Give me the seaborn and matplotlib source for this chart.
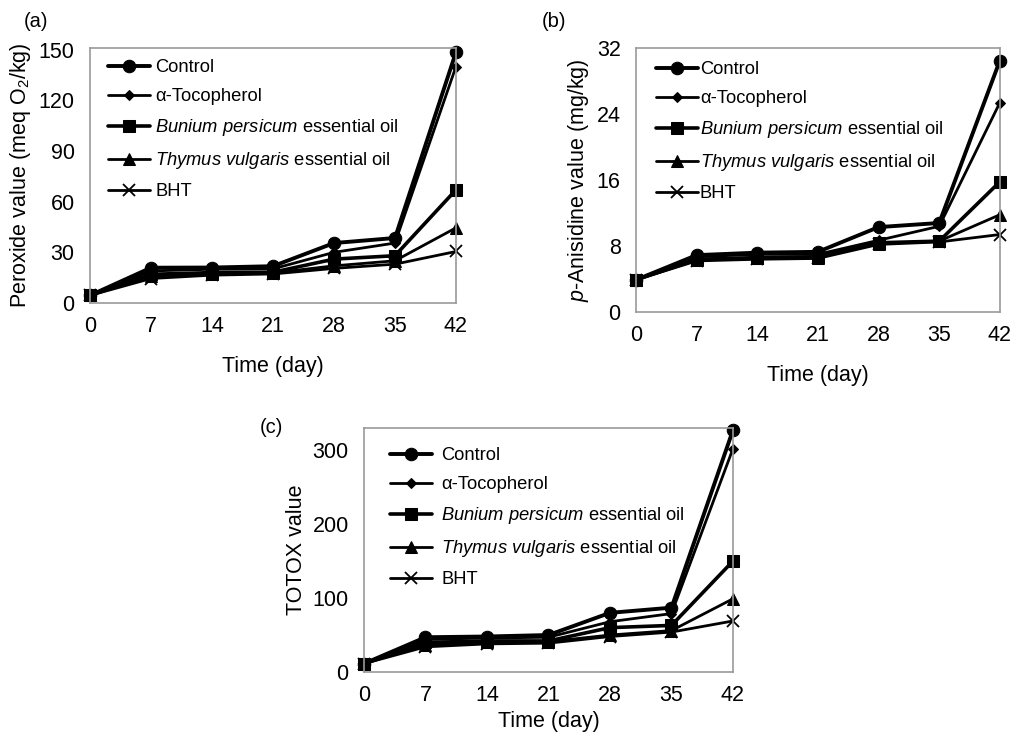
import numpy as np
import pandas as pd
import seaborn as sns
import matplotlib
matplotlib.use("Agg")
import matplotlib.pyplot as plt

days = [0, 7, 14, 21, 28, 35, 42]
series = ["Control", "α-Tocopherol", "$\\it{Bunium\\ persicum}$ essential oil",
          "$\\it{Thymus\\ vulgaris}$ essential oil", "BHT"]

peroxide_control = [4.5, 20.9, 21.0, 21.8, 35.5, 38.5, 148.5]
peroxide_toco = [4.5, 19.0, 20.0, 20.2, 30.0, 35.5, 140.0]
peroxide_bunium = [4.5, 17.0, 18.0, 18.2, 26.0, 28.0, 67.0]
peroxide_thymus = [4.5, 16.0, 17.0, 17.8, 22.0, 25.0, 44.5]
peroxide_bht = [4.5, 14.5, 16.5, 17.2, 20.5, 23.0, 30.5]

anisidine_control = [3.9, 6.9, 7.2, 7.3, 10.3, 10.8, 30.5]
anisidine_toco = [3.9, 6.7, 7.0, 7.0, 8.7, 10.4, 25.4]
anisidine_bunium = [3.9, 6.4, 6.6, 6.7, 8.4, 8.6, 15.8]
anisidine_thymus = [3.9, 6.3, 6.5, 6.6, 8.3, 8.6, 11.8]
anisidine_bht = [3.9, 6.2, 6.4, 6.5, 8.2, 8.5, 9.4]

totox_control = [11.3, 47, 48, 50, 80, 87, 327]
totox_toco = [11.3, 44, 46, 47, 68, 79, 302]
totox_bunium = [11.3, 40, 42, 42, 60, 63, 150]
totox_thymus = [11.3, 37, 40, 41, 50, 56, 99]
totox_bht = [11.3, 34, 38, 39, 48, 54, 69]

sns.set_style("white")
plt.rcParams['font.family'] = ['Liberation Sans', 'DejaVu Sans']
plt.rcParams['mathtext.fontset'] = 'custom'
plt.rcParams['mathtext.rm'] = 'Liberation Sans'
plt.rcParams['mathtext.it'] = 'Liberation Sans:italic'
plt.rcParams['text.color'] = 'black'
plt.rcParams['axes.labelcolor'] = 'black'
plt.rcParams['xtick.color'] = 'black'
plt.rcParams['ytick.color'] = 'black'

styles = [dict(marker='o', ms=9, lw=2.8),
          dict(marker='D', ms=5.5, lw=2.0),
          dict(marker='s', ms=8.5, lw=2.6),
          dict(marker='^', ms=8.5, lw=2.0),
          dict(marker='x', ms=8, lw=2.0, mew=1.3)]

fig = plt.figure(figsize=(10.11, 7.33), dpi=100)
ax_a = fig.add_axes([0.089, 0.5866, 0.362, 0.348])
ax_b = fig.add_axes([0.629, 0.5743, 0.360, 0.360])
ax_c = fig.add_axes([0.360, 0.0832, 0.365, 0.333])


def draw(ax, data, ylim, yticks, ylabel, leg_anchor, textpad):
    for name, vals, st in zip(series, data, styles):
        df = pd.DataFrame({"day": days, "value": vals})
        sns.lineplot(data=df, x="day", y="value", ax=ax, color="black",
                     label=name, markeredgecolor="black", clip_on=False, **st)
    ax.set_xlim(0, 42)
    ax.set_ylim(*ylim)
    ax.set_xticks(days)
    ax.set_yticks(yticks)
    ax.tick_params(direction='in', length=4, color='#999999', labelsize=15.5)
    ax.tick_params(axis='x', pad=9)
    ax.tick_params(axis='y', pad=11)
    for sp in ax.spines.values():
        sp.set_color('#999999')
        sp.set_linewidth(1.2)
    ax.set_xlabel("Time (day)", fontsize=15.5, labelpad=14)
    ax.set_ylabel(ylabel, fontsize=15.5, labelpad=4)
    ax.legend(loc='upper left', bbox_to_anchor=leg_anchor, frameon=False,
              fontsize=13.2, handlelength=2.3, handletextpad=textpad,
              labelspacing=0.65, borderpad=0, borderaxespad=0)


draw(ax_a, [peroxide_control, peroxide_toco, peroxide_bunium, peroxide_thymus, peroxide_bht],
     (0, 151), [0, 30, 60, 90, 120, 150], "Peroxide value (meq O$_2$/kg)",
     (0.05, 0.955), 0.25)
draw(ax_b, [anisidine_control, anisidine_toco, anisidine_bunium, anisidine_thymus, anisidine_bht],
     (0, 32), [0, 8, 16, 24, 32], "$p$-Anisidine value (mg/kg)",
     (0.055, 0.95), 0.1)
draw(ax_c, [totox_control, totox_toco, totox_bunium, totox_thymus, totox_bht],
     (0, 330), [0, 100, 200, 300], "TOTOX value",
     (0.07, 0.92), 0.5)
ax_c.xaxis.labelpad = 4

fig.text(0.023, 0.970, "(a)", fontsize=14.5, va='center')
fig.text(0.536, 0.970, "(b)", fontsize=14.5, va='center')
fig.text(0.257, 0.417, "(c)", fontsize=14.5, va='center')

fig.savefig("out.png", dpi=100)
